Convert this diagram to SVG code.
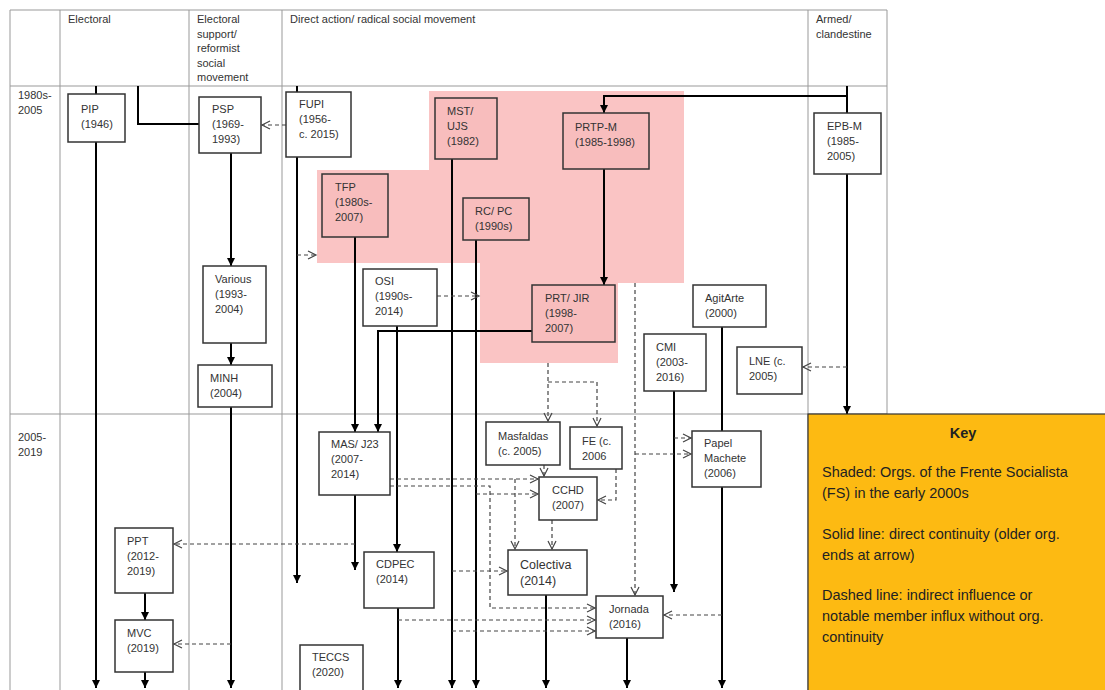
<svg xmlns="http://www.w3.org/2000/svg" width="1105" height="690" viewBox="0 0 1105 690">
<style>
text{font-family:"Liberation Sans",Arial,sans-serif;fill:#333;font-size:11px}
.hd{font-size:11px}
.grid{stroke:#999;stroke-width:1;fill:none}
.box{fill:#fff;stroke:#333;stroke-width:1.5}
.pbox{fill:#F8BDBD;stroke:#333;stroke-width:1.5}
.s{stroke:#000;stroke-width:2;fill:none}
.d{stroke:#444;stroke-width:1.2;stroke-dasharray:4 3;fill:none}
.key{font-size:14.5px;fill:#222}
</style>
<defs>
<marker id="ah" markerWidth="9" markerHeight="9" refX="8" refY="4.5" orient="auto" markerUnits="userSpaceOnUse"><path d="M0,0.5 L8,4.5 L0,8.5 z" fill="#000"/></marker>
<marker id="oa" markerWidth="11" markerHeight="11" refX="9" refY="5" orient="auto" markerUnits="userSpaceOnUse"><path d="M1,1 L9,5 L1,9" fill="none" stroke="#444" stroke-width="1.2"/></marker>
</defs>
<rect width="1105" height="690" fill="#fff"/>
<g id="grid">
<path class="grid" d="M10,10 H887 M10,86 H887 M10,414 H887 M10,10 V690 M60,10 V690 M189,10 V690 M282,10 V690 M808,10 V690 M887,10 V414"/>
<text class="hd" x="68" y="23">Electoral</text>
<text class="hd" x="197" y="23">Electoral</text>
<text class="hd" x="197" y="37.5">support/</text>
<text class="hd" x="197" y="52">reformist</text>
<text class="hd" x="197" y="66.5">social</text>
<text class="hd" x="197" y="81">movement</text>
<text class="hd" x="290" y="23">Direct action/ radical social movement</text>
<text class="hd" x="816" y="23">Armed/</text>
<text class="hd" x="816" y="37.5">clandestine</text>
<text class="hd" x="18" y="99">1980s-</text>
<text class="hd" x="18" y="113.5">2005</text>
<text class="hd" x="18" y="441">2005-</text>
<text class="hd" x="18" y="455.5">2019</text>
</g>
<polygon id="fs-shading" points="429,91 684,91 684,283 618,283 618,363 480,363 480,263 317,263 317,170 429,170" fill="#FAC4C4"/>
<g id="connectors">
<path class="s" d="M96,86 V94"/>
<path class="s" d="M96,142 V688" marker-end="url(#ah)"/>
<path class="s" d="M138,86 V124 H199"/>
<path class="s" d="M297,86 V92"/>
<path class="s" d="M297,157 V583" marker-end="url(#ah)"/>
<path class="s" d="M231,153 V266" marker-end="url(#ah)"/>
<path class="s" d="M231,343 V365" marker-end="url(#ah)"/>
<path class="s" d="M231,407 V688" marker-end="url(#ah)"/>
<path class="s" d="M145,593 V620" marker-end="url(#ah)"/>
<path class="s" d="M145,672 V688" marker-end="url(#ah)"/>
<path class="s" d="M847,86 V113"/>
<path class="s" d="M847,96 H604 V113" marker-end="url(#ah)"/>
<path class="s" d="M847,174 V414" marker-end="url(#ah)"/>
<path class="s" d="M604,169 V285" marker-end="url(#ah)"/>
<path class="s" d="M452,159 V688" marker-end="url(#ah)"/>
<path class="s" d="M476,240 V688" marker-end="url(#ah)"/>
<path class="s" d="M355,237 V432" marker-end="url(#ah)"/>
<path class="s" d="M532,331 H378 V432" marker-end="url(#ah)"/>
<path class="s" d="M397,326 V552" marker-end="url(#ah)"/>
<path class="s" d="M355,495 V570" marker-end="url(#ah)"/>
<path class="s" d="M398,608 V688" marker-end="url(#ah)"/>
<path class="s" d="M546,595 V688" marker-end="url(#ah)"/>
<path class="s" d="M627,638 V688" marker-end="url(#ah)"/>
<path class="s" d="M674,391 V592" marker-end="url(#ah)"/>
<path class="s" d="M722,327 V431"/>
<path class="s" d="M722,487 V688" marker-end="url(#ah)"/>
<path class="d" d="M286,125 H262" marker-end="url(#oa)"/>
<path class="d" d="M297,255 H316" marker-end="url(#oa)"/>
<path class="d" d="M437,296 H479" marker-end="url(#oa)"/>
<path class="d" d="M847,367 H803" marker-end="url(#oa)"/>
<path class="d" d="M548,363 V421" marker-end="url(#oa)"/>
<path class="d" d="M548,382 H597 V426" marker-end="url(#oa)"/>
<path class="d" d="M635,283 V595" marker-end="url(#oa)"/>
<path class="d" d="M635,454 H691" marker-end="url(#oa)"/>
<path class="d" d="M674,438 H691" marker-end="url(#oa)"/>
<path class="d" d="M544,465 V476" marker-end="url(#oa)"/>
<path class="d" d="M616,469 V500 H598" marker-end="url(#oa)"/>
<path class="d" d="M390,479 H538" marker-end="url(#oa)"/>
<path class="d" d="M515,479 V549" marker-end="url(#oa)"/>
<path class="d" d="M390,486 H490 V608 H595" marker-end="url(#oa)"/>
<path class="d" d="M476,494 H538" marker-end="url(#oa)"/>
<path class="d" d="M552,520 V549" marker-end="url(#oa)"/>
<path class="d" d="M452,571 H507" marker-end="url(#oa)"/>
<path class="d" d="M398,620 H595" marker-end="url(#oa)"/>
<path class="d" d="M452,631 H595" marker-end="url(#oa)"/>
<path class="d" d="M722,615 H664" marker-end="url(#oa)"/>
<path class="d" d="M355,544 H174" marker-end="url(#oa)"/>
<path class="d" d="M231,644 H174" marker-end="url(#oa)"/>
</g>
<g id="PIP"><rect class="box" x="68" y="94" width="57" height="48"/><text x="81" y="113">PIP</text><text x="81" y="128">(1946)</text></g>
<g id="PSP"><rect class="box" x="199" y="97" width="62" height="56"/><text x="212" y="113">PSP</text><text x="212" y="128">(1969-</text><text x="212" y="143">1993)</text></g>
<g id="FUPI"><rect class="box" x="286" y="92" width="65" height="65"/><text x="299" y="108">FUPI</text><text x="299" y="123">(1956-</text><text x="299" y="138">c. 2015)</text></g>
<g id="MST-UJS"><rect class="pbox" x="435" y="98" width="62" height="61"/><text x="447" y="115">MST/</text><text x="447" y="130">UJS</text><text x="447" y="145">(1982)</text></g>
<g id="PRTP-M"><rect class="pbox" x="563" y="113" width="86" height="56"/><text x="575" y="131">PRTP-M</text><text x="575" y="146">(1985-1998)</text></g>
<g id="EPB-M"><rect class="box" x="814" y="113" width="67" height="61"/><text x="827" y="130">EPB-M</text><text x="827" y="145">(1985-</text><text x="827" y="160">2005)</text></g>
<g id="TFP"><rect class="pbox" x="322" y="174" width="66" height="63"/><text x="335" y="191">TFP</text><text x="335" y="206">(1980s-</text><text x="335" y="221">2007)</text></g>
<g id="RC-PC"><rect class="pbox" x="463" y="198" width="66" height="42"/><text x="475" y="215">RC/ PC</text><text x="475" y="230">(1990s)</text></g>
<g id="Various"><rect class="box" x="203" y="266" width="63" height="77"/><text x="215" y="283">Various</text><text x="215" y="298">(1993-</text><text x="215" y="313">2004)</text></g>
<g id="OSI"><rect class="box" x="363" y="269" width="74" height="57"/><text x="375" y="285">OSI</text><text x="375" y="300">(1990s-</text><text x="375" y="315">2014)</text></g>
<g id="PRT-JIR"><rect class="pbox" x="532" y="285" width="83" height="57"/><text x="545" y="302">PRT/ JIR</text><text x="545" y="317">(1998-</text><text x="545" y="332">2007)</text></g>
<g id="AgitArte"><rect class="box" x="693" y="285" width="73" height="42"/><text x="705" y="302">AgitArte</text><text x="705" y="317">(2000)</text></g>
<g id="CMI"><rect class="box" x="644" y="334" width="62" height="57"/><text x="656" y="351">CMI</text><text x="656" y="366">(2003-</text><text x="656" y="381">2016)</text></g>
<g id="LNE"><rect class="box" x="737" y="347" width="65" height="47"/><text x="749" y="365">LNE (c.</text><text x="749" y="380">2005)</text></g>
<g id="MINH"><rect class="box" x="198" y="365" width="74" height="42"/><text x="210" y="382">MINH</text><text x="210" y="397">(2004)</text></g>
<g id="Masfaldas"><rect class="box" x="486" y="422" width="74" height="43"/><text x="498" y="440">Masfaldas</text><text x="498" y="455">(c. 2005)</text></g>
<g id="FE"><rect class="box" x="570" y="427" width="52" height="42"/><text x="582" y="445">FE (c.</text><text x="582" y="460">2006</text></g>
<g id="MAS-J23"><rect class="box" x="319" y="432" width="71" height="63"/><text x="331" y="448">MAS/ J23</text><text x="331" y="463">(2007-</text><text x="331" y="478">2014)</text></g>
<g id="Papel-Machete"><rect class="box" x="692" y="431" width="69" height="56"/><text x="704" y="447">Papel</text><text x="704" y="462">Machete</text><text x="704" y="477">(2006)</text></g>
<g id="CCHD"><rect class="box" x="539" y="477" width="58" height="43"/><text x="552" y="494">CCHD</text><text x="552" y="509">(2007)</text></g>
<g id="PPT"><rect class="box" x="115" y="528" width="58" height="65"/><text x="127" y="545">PPT</text><text x="127" y="560">(2012-</text><text x="127" y="575">2019)</text></g>
<g id="Colectiva"><rect class="box" x="508" y="550" width="79" height="45"/><text x="520" y="569" style="font-size:12.5px">Colectiva</text><text x="520" y="585" style="font-size:12.5px">(2014)</text></g>
<g id="CDPEC"><rect class="box" x="364" y="552" width="70" height="56"/><text x="376" y="568">CDPEC</text><text x="376" y="583">(2014)</text></g>
<g id="Jornada"><rect class="box" x="596" y="596" width="67" height="42"/><text x="609" y="613">Jornada</text><text x="609" y="628">(2016)</text></g>
<g id="MVC"><rect class="box" x="115" y="620" width="58" height="52"/><text x="127" y="637">MVC</text><text x="127" y="652">(2019)</text></g>
<g id="TECCS"><rect class="box" x="300" y="645" width="63" height="50"/><text x="312" y="661">TECCS</text><text x="312" y="676">(2020)</text></g>
<g id="Key">
<rect x="808" y="414" width="300" height="280" fill="#FDBA12" stroke="#333" stroke-width="1.2"/>
<text class="key" x="963" y="438" text-anchor="middle" font-weight="bold">Key</text>
<text class="key" x="822" y="477">Shaded: Orgs. of the Frente Socialista</text>
<text class="key" x="822" y="498">(FS) in the early 2000s</text>
<text class="key" x="822" y="539">Solid line: direct continuity (older org.</text>
<text class="key" x="822" y="560">ends at arrow)</text>
<text class="key" x="822" y="600">Dashed line: indirect influence or</text>
<text class="key" x="822" y="621">notable member influx without org.</text>
<text class="key" x="822" y="642">continuity</text>
</g>
</svg>
